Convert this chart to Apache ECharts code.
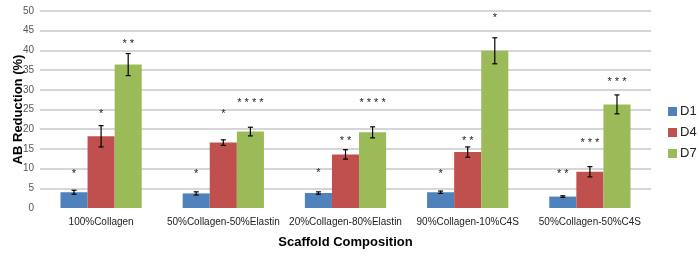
<!DOCTYPE html>
<html>
<head>
<meta charset="utf-8">
<script src="https://cdn.jsdelivr.net/npm/echarts@6/dist/echarts.min.js"></script>
<style>
  html, body { margin: 0; padding: 0; background: #fff; }
  #chart { width: 700px; height: 263px; }
</style>
</head>
<body>
<div id="chart"></div>
<script>
var categories = ['100%Collagen', '50%Collagen-50%Elastin', '20%Collagen-80%Elastin', '90%Collagen-10%C4S', '50%Collagen-50%C4S']
var seriesNames = ['D1', 'D4', 'D7']
var colors = ['#4F81BD', '#C0504D', '#9BBB59']

// mean values
var d1 = [4.0, 3.7, 3.8, 4.0, 2.9]
var d4 = [18.2, 16.6, 13.6, 14.2, 9.2]
var d7 = [36.4, 19.4, 19.2, 39.9, 26.3]
// error bar half widths
var d1Err = [0.5, 0.4, 0.3, 0.3, 0.2]
var d4Err = [2.7, 0.7, 1.2, 1.3, 1.3]
var d7Err = [2.8, 1.1, 1.4, 3.3, 2.4]
// significance marks and the height they sit at
var d1Sig = ['*', '*', '*', '*', '**']
var d4Sig = ['*', '*', '**', '**', '***']
var d7Sig = ['**', '****', '****', '*', '***']
var d1SigY = [8.6, 8.7, 8.8, 8.7, 8.7]
var d4SigY = [23.8, 23.8, 17.1, 17.1, 16.4]
var d7SigY = [41.6, 26.6, 26.6, 48.3, 32.0]

var values = [d1, d4, d7]
var errs = [d1Err, d4Err, d7Err]
var sigs = [d1Sig, d4Sig, d7Sig]
var sigYs = [d1SigY, d4SigY, d7SigY]

var FONT = 'Liberation Sans, Arial, sans-serif'
var GAP = 0.335

function offsetFor(api, s) {
  var band = api.size([1, 0])[0]
  var bw = band * (1 - GAP) / 3
  return (s - 1) * bw
}

var series = []
seriesNames.forEach(function (name, s) {
  series.push({
    name: name,
    type: 'bar',
    data: values[s],
    barGap: '0%',
    barCategoryGap: '33.5%',
    itemStyle: { color: colors[s] },
    animation: false
  })
})

seriesNames.forEach(function (name, s) {
  series.push({
    type: 'custom',
    silent: true,
    animation: false,
    z: 5,
    data: values[s].map(function (v, i) { return [i, v - errs[s][i], v + errs[s][i]] }),
    renderItem: function (params, api) {
      var off = offsetFor(api, s)
      var lo = api.coord([api.value(0), api.value(1)])
      var hi = api.coord([api.value(0), api.value(2)])
      var x = lo[0] + off
      var cap = 2.5
      var style = { stroke: '#000', lineWidth: 1.2 }
      return {
        type: 'group',
        children: [
          { type: 'line', shape: { x1: x, y1: lo[1], x2: x, y2: hi[1] }, style: style },
          { type: 'line', shape: { x1: x - cap, y1: lo[1], x2: x + cap, y2: lo[1] }, style: style },
          { type: 'line', shape: { x1: x - cap, y1: hi[1], x2: x + cap, y2: hi[1] }, style: style }
        ]
      }
    }
  })
})

seriesNames.forEach(function (name, s) {
  series.push({
    type: 'custom',
    silent: true,
    animation: false,
    z: 6,
    data: sigYs[s].map(function (v, i) { return [i, v] }),
    renderItem: function (params, api) {
      var off = offsetFor(api, s)
      var p = api.coord([api.value(0), api.value(1)])
      return {
        type: 'text',
        x: p[0] + off,
        y: p[1],
        style: {
          text: sigs[s][params.dataIndex].split('').join(' '),
          fill: '#222',
          font: '11px ' + FONT,
          align: 'center',
          verticalAlign: 'middle'
        }
      }
    }
  })
})

var chart = echarts.init(document.getElementById('chart'))
chart.setOption({
  animation: false,
  textStyle: { fontFamily: FONT },
  grid: { left: 40, right: 49, top: 11, bottom: 55, outerBoundsMode: 'none' },
  legend: {
    data: seriesNames,
    orient: 'vertical',
    left: 663,
    top: 100,
    itemWidth: 9,
    itemHeight: 9,
    itemGap: 8,
    icon: 'rect',
    textStyle: { fontSize: 13, color: '#222', padding: [0, 0, 0, -2] }
  },
  xAxis: {
    type: 'category',
    data: categories,
    name: 'Scaffold Composition',
    nameLocation: 'middle',
    nameGap: 28,
    nameTextStyle: { fontSize: 13, fontWeight: 'bold', color: '#000' },
    axisLine: { show: false },
    axisTick: { show: false },
    axisLabel: { fontSize: 10, color: '#222', margin: 9, interval: 0 }
  },
  yAxis: {
    type: 'value',
    min: 0,
    max: 50,
    interval: 5,
    name: 'AB Reduction (%)',
    nameLocation: 'middle',
    nameGap: 15,
    nameMoveOverlap: false,
    nameTextStyle: { fontSize: 13, fontWeight: 'bold', color: '#000' },
    axisLine: { show: false },
    axisTick: { show: false },
    axisLabel: { fontSize: 10, color: '#555', margin: 6 },
    splitLine: { showMinLine: false, lineStyle: { color: '#c8c8c8', width: 1.5 } }
  },
  series: series
})
</script>
</body>
</html>
